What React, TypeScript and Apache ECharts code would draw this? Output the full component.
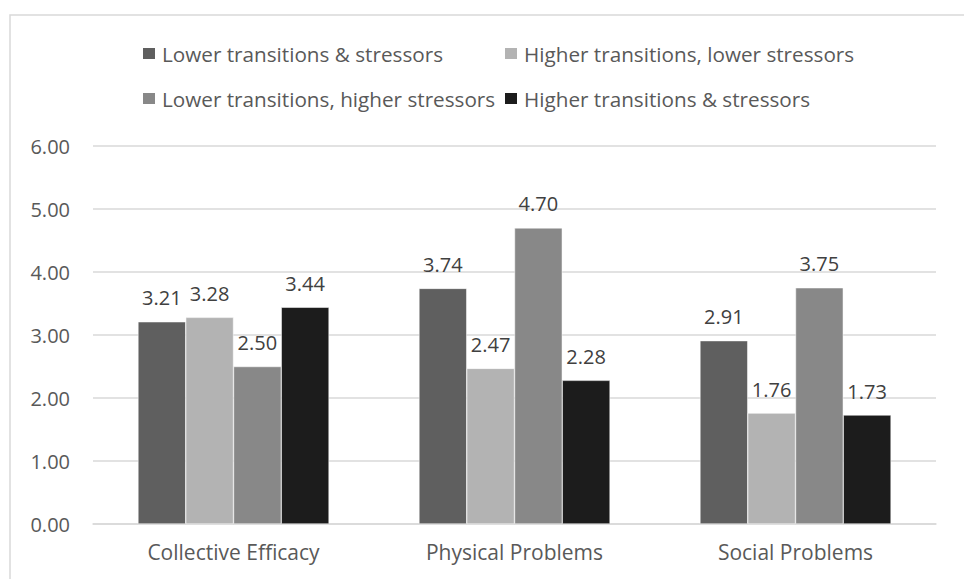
import React, { useEffect, useRef } from "react";
import * as echarts from "echarts";

const categories = ["Collective Efficacy", "Physical Problems", "Social Problems"];
const seriesNames = [
  "Lower transitions & stressors",
  "Higher transitions, lower stressors",
  "Lower transitions, higher stressors",
  "Higher transitions & stressors",
];
const lowerBoth = [3.21, 3.74, 2.91];
const higherTransLowerStress = [3.28, 2.47, 1.76];
const lowerTransHigherStress = [2.5, 4.7, 3.75];
const higherBoth = [3.44, 2.28, 1.73];
const seriesValues = [lowerBoth, higherTransLowerStress, lowerTransHigherStress, higherBoth];
const colors = ["#5f5f5f", "#b3b3b3", "#888888", "#1c1c1c"];
// legend layout: icon left x, row center y
const legendLayout = [
  { x: 141, y: 53.5 },
  { x: 503, y: 53.5 },
  { x: 141, y: 98.5 },
  { x: 503, y: 98.5 },
];
const LEGEND_FIRST_WIDTH = 281;

const FONT = "'Open Sans', 'Liberation Sans', sans-serif";

function measure(text: string, size: number) {
  const c = document.createElement("canvas").getContext("2d");
  if (!c) return text.length * size * 0.5;
  c.font = `${size}px 'Open Sans'`;
  return c.measureText(text).width;
}

export default function App() {
  const ref = useRef<HTMLDivElement>(null);
  useEffect(() => {
    if (!ref.current) return;
    const chart = echarts.init(ref.current, undefined, { renderer: "svg" });
    const legSize = Math.round(20 * (LEGEND_FIRST_WIDTH / measure(seriesNames[0], 20)) * 10) / 10;
    chart.setOption({
      animation: false,
      backgroundColor: "#ffffff",
      graphic: [
        {
          type: "rect",
          shape: { x: 10, y: 15, width: 1200, height: 1200 },
          style: { fill: "none", stroke: "#d9d9d9", lineWidth: 1.5 },
          silent: true,
        },
      ],
      legend: seriesNames.map((n, i) => ({
        data: [n],
        left: legendLayout[i].x,
        top: legendLayout[i].y - 11,
        padding: 0,
        itemWidth: 14,
        itemHeight: 13,
        icon: "rect",
        itemGap: 0,
        selectedMode: false,
        textStyle: {
          fontFamily: FONT,
          fontSize: legSize,
          lineHeight: 22,
          color: "#595959",
          padding: [0, 0, 0, 1],
        },
      })),
      grid: { left: 93, right: 28, top: 146, bottom: 55, containLabel: false },
      xAxis: {
        type: "category",
        data: categories,
        axisLine: { lineStyle: { color: "#d9d9d9", width: 1.5 } },
        axisTick: { show: false },
        axisLabel: { fontFamily: FONT, fontSize: 21, color: "#595959", margin: 17 },
      },
      yAxis: {
        type: "value",
        min: 0,
        max: 6,
        interval: 1,
        axisLabel: {
          fontFamily: FONT,
          fontSize: 20,
          color: "#595959",
          margin: 23,
          formatter: (v: number) => v.toFixed(2),
        },
        splitLine: { lineStyle: { color: "#d9d9d9", width: 1.5 } },
        axisLine: { show: false },
        axisTick: { show: false },
      },
      series: seriesNames.map((n, i) => ({
        name: n,
        type: "bar",
        data: seriesValues[i],
        barGap: "0%",
        barCategoryGap: "32%",
        itemStyle: { color: colors[i], borderColor: "#ffffff", borderWidth: 0.5 },
        label: {
          show: true,
          position: "top",
          distance: 14,
          fontFamily: FONT,
          fontSize: 20,
          color: "#404040",
          formatter: (p: any) => Number(p.value).toFixed(2),
        },
      })),
    });
    return () => chart.dispose();
  }, []);
  return (
    <div
      ref={ref}
      style={{ position: "absolute", left: 0, top: 0, width: 964, height: 579 }}
    />
  );
}
